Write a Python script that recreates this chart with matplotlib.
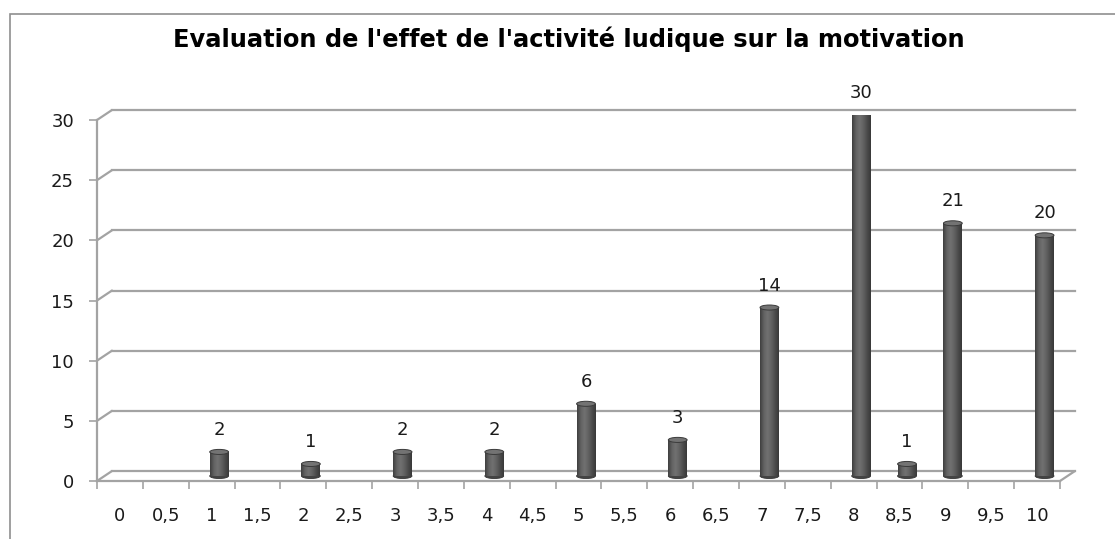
import numpy as np
import matplotlib.pyplot as plt
import matplotlib.transforms as mtransforms
from matplotlib.patches import Rectangle, Ellipse, ConnectionPatch
from matplotlib.colors import LinearSegmentedColormap

# données du graphique
categories = ['0', '0,5', '1', '1,5', '2', '2,5', '3', '3,5', '4', '4,5', '5',
              '5,5', '6', '6,5', '7', '7,5', '8', '8,5', '9', '9,5', '10']
valeurs = [0, 0, 2, 0, 1, 0, 2, 0, 2, 0, 6, 0, 3, 0, 14, 0, 30, 1, 21, 0, 20]
y_ticks = [0, 5, 10, 15, 20, 25, 30]
titre = "Evaluation de l'effet de l'activité ludique sur la motivation"

W, H = 1115, 539
plt.rcParams['font.family'] = ['DejaVu Sans']
fig = plt.figure(figsize=(W / 100, H / 100), dpi=100)
ax = fig.add_axes([97 / W, 1 - 481 / H, 963 / W, 361 / H])

gris = '#a3a3a3'
n = len(categories)

# cadre du graphique (coupé à droite et en bas)
fig.add_artist(Rectangle((10 / W, -0.2), 1.2, 1.2 - 14 / H, transform=fig.transFigure,
                         fill=False, edgecolor='#8f8f8f', lw=1.2))

# effet 3D : mur du fond et profondeur des cylindres
fond = mtransforms.offset_copy(ax.transData, fig=fig, x=15, y=10, units='dots')
milieu = mtransforms.offset_copy(ax.transData, fig=fig, x=7.5, y=5, units='dots')

for v in y_ticks:
    ax.plot([0, n], [v, v], color=gris, lw=1.6, transform=fond, clip_on=False, zorder=1)
    cp = ConnectionPatch((0, v), (0, v), coordsA=ax.transData, coordsB=fond,
                         color=gris, lw=1.6, zorder=1)
    ax.add_artist(cp)
cp = ConnectionPatch((n, 0), (n, 0), coordsA=ax.transData, coordsB=fond,
                     color=gris, lw=1.6, zorder=1)
ax.add_artist(cp)

# cylindres
cmap = LinearSegmentedColormap.from_list('cyl', ['#3f3f3f', '#626262', '#717171',
                                                 '#626262', '#4c4c4c', '#383838'])
grad = np.linspace(0, 1, 64).reshape(1, -1)
bw = 0.41
eh = 0.42
for i, v in enumerate(valeurs):
    if v == 0:
        continue
    xc = i + 0.5
    x0 = xc - bw / 2
    ax.add_patch(Ellipse((xc, 0), bw, eh, transform=milieu, facecolor='#444444',
                         edgecolor='#333333', lw=0.6, zorder=3))
    rect = Rectangle((x0, 0), bw, v, transform=milieu, facecolor='#5a5a5a',
                     edgecolor='none', zorder=3)
    ax.add_patch(rect)
    img = ax.imshow(grad, extent=(x0, x0 + bw, 0, v), transform=milieu, cmap=cmap,
                    aspect='auto', zorder=3.1, interpolation='bilinear')
    img.set_clip_path(rect)
    ax.add_patch(Ellipse((xc, v), bw, eh, transform=milieu, facecolor='#737373',
                         edgecolor='#3a3a3a', lw=0.7, zorder=3.2))
    ax.annotate(str(v), (xc, v), xycoords=milieu, xytext=(0, 13),
                textcoords='offset pixels', ha='center', va='bottom',
                fontsize=13, color='#1a1a1a', zorder=4)

ax.set_xlim(0, n)
ax.set_ylim(0, 30)

# axes
for s in ['top', 'right']:
    ax.spines[s].set_visible(False)
for s in ['left', 'bottom']:
    ax.spines[s].set_color(gris)
    ax.spines[s].set_linewidth(1.6)
ax.patch.set_visible(False)

ax.set_xticks(np.arange(n) + 0.5)
ax.set_xticklabels(categories)
ax.set_xticks(np.arange(n + 1), minor=True)
ax.tick_params(axis='x', which='major', length=0, pad=19, labelsize=13, labelcolor='#1a1a1a')
ax.tick_params(axis='x', which='minor', length=6, width=1.2, color=gris, direction='out')
ax.set_yticks(y_ticks)
ax.tick_params(axis='y', length=6, width=1.2, color=gris, pad=10.5, labelsize=13,
               labelcolor='#1a1a1a')

fig.text(569 / W, 1 - 39 / H, titre, ha='center', va='center', fontsize=17.4,
         fontweight='bold', color='black')

fig.savefig('out.png', dpi=100)
